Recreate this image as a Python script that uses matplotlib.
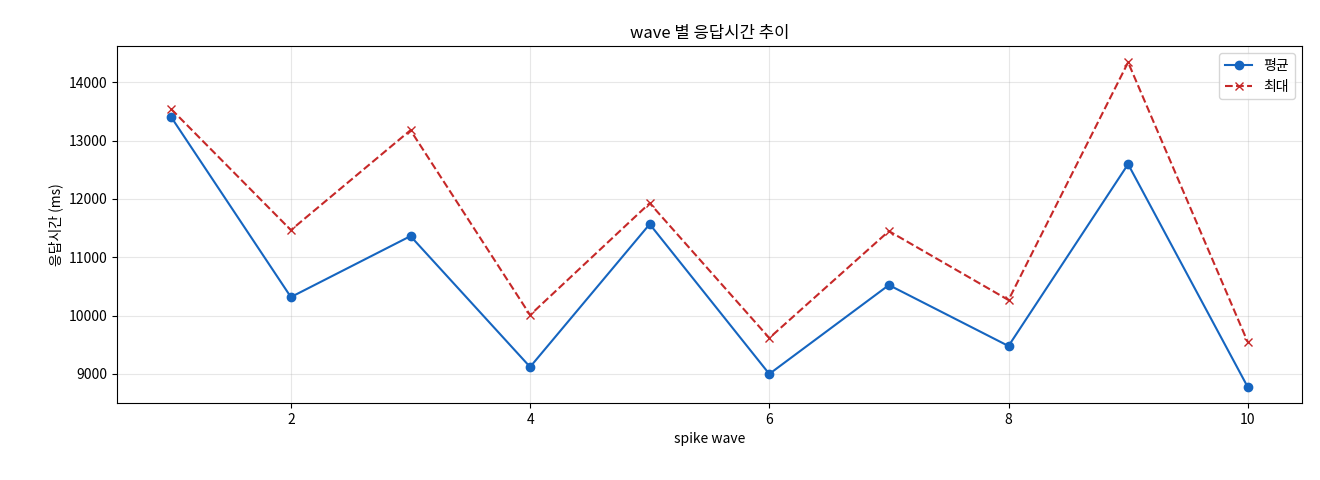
import matplotlib
matplotlib.use("Agg")
import matplotlib.pyplot as plt

plt.rcParams['font.family'] = ['Noto Sans CJK KR', 'DejaVu Sans']

waves = [1, 2, 3, 4, 5, 6, 7, 8, 9, 10]
avg_ms = [13400, 10318, 11363, 9120, 11568, 9000, 10524, 9479, 12596, 8777]
max_ms = [13538, 11466, 13178, 10010, 11928, 9616, 11449, 10267, 14342, 9548]

fig, ax = plt.subplots(figsize=(13.2, 4.8), dpi=100)
ax.plot(waves, avg_ms, marker='o', linestyle='-', color='#1565c0', label='평균')
ax.plot(waves, max_ms, marker='x', linestyle='--', color='#c62828', label='최대')
ax.set_title("wave 별 응답시간 추이")
ax.set_xlabel("spike wave")
ax.set_ylabel("응답시간 (ms)")
ax.grid(True, alpha=0.3)
ax.legend(loc='upper right')
fig.subplots_adjust(left=0.089, right=0.986, top=0.904, bottom=0.16)
fig.savefig("out.png")
